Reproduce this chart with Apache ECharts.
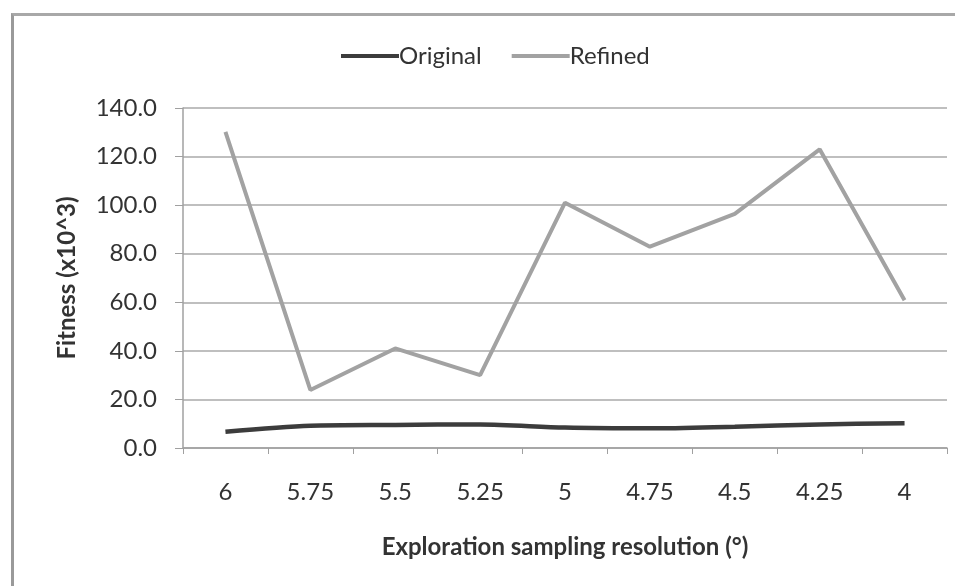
<!DOCTYPE html>
<html><head><meta charset="utf-8">
<script src="https://cdn.jsdelivr.net/npm/echarts@6/dist/echarts.min.js"></script>
<style>
html,body{margin:0;padding:0;background:#fff;overflow:hidden;}
#frame{position:absolute;left:11px;top:13px;width:960px;height:600px;border-left:3px solid #9a9a9a;border-top:3px solid #a8a8a8;box-sizing:border-box;}
#c{position:absolute;left:0;top:0;width:955px;height:586px;}
</style></head>
<body>
<div id="frame"></div>
<div id="c"></div>
<script>
const categories = ['6','5.75','5.5','5.25','5','4.75','4.5','4.25','4'];
const originalValues = [6.7, 9.2, 9.5, 9.7, 8.4, 8.1, 8.8, 9.7, 10.2];
const refinedValues = [130.2, 23.9, 41.0, 30.0, 101.0, 82.9, 96.4, 123.0, 60.8];
const yTicks = [0, 20, 40, 60, 80, 100, 120, 140];

const font = 'Lato, "Open Sans", sans-serif';
const chart = echarts.init(document.getElementById('c'));
chart.setOption({
  animation: false,
  legend: {
    top: 39, left: 336, itemGap: 30,
    itemWidth: 58, itemHeight: 4,
    textStyle: {fontFamily: font, fontSize: 24, color: '#333', padding: [0,0,0,-5]},
    data: [
      {name: 'Original', icon: 'rect', itemStyle: {color: '#3c3c3c'}},
      {name: 'Refined', icon: 'rect', itemStyle: {color: '#a2a2a2'}}
    ]
  },
  grid: {left: 183, right: 8, top: 108, bottom: 138, containLabel: false},
  xAxis: {
    type: 'category', data: categories, boundaryGap: true,
    name: 'Exploration sampling resolution (°)', nameLocation: 'middle', nameGap: 87,
    nameTextStyle: {fontFamily: font, fontSize: 24, fontWeight: 'bold', color: '#333'},
    axisLine: {lineStyle: {color: '#a0a0a0', width: 1.5}},
    axisTick: {show: true, length: 6, lineStyle: {color: '#a0a0a0'}},
    axisLabel: {fontFamily: font, fontSize: 24, color: '#333', margin: 32}
  },
  yAxis: {
    type: 'value', min: 0, max: 140, interval: 20,
    name: 'Fitness (x10^3)', nameLocation: 'middle', nameGap: 104, nameRotate: 90,
    nameTextStyle: {fontFamily: font, fontSize: 24, fontWeight: 'bold', color: '#333'},
    axisLine: {show: true, lineStyle: {color: '#a0a0a0', width: 1.5}},
    axisTick: {show: true, length: 8, lineStyle: {color: '#a0a0a0'}},
    splitLine: {lineStyle: {color: '#aaaaaa', width: 1.5}},
    axisLabel: {fontFamily: font, fontSize: 24, color: '#333', margin: 26,
      formatter: v => yTicks.includes(v) ? v.toFixed(1) : ''}
  },
  series: [
    {name: 'Original', type: 'line', data: originalValues, symbol: 'none', smooth: 0.3,
     lineStyle: {color: '#3c3c3c', width: 4.5}, itemStyle: {color: '#3c3c3c'}},
    {name: 'Refined', type: 'line', data: refinedValues, symbol: 'none',
     lineStyle: {color: '#a2a2a2', width: 4}, itemStyle: {color: '#a2a2a2'}}
  ]
});
</script>
</body></html>
